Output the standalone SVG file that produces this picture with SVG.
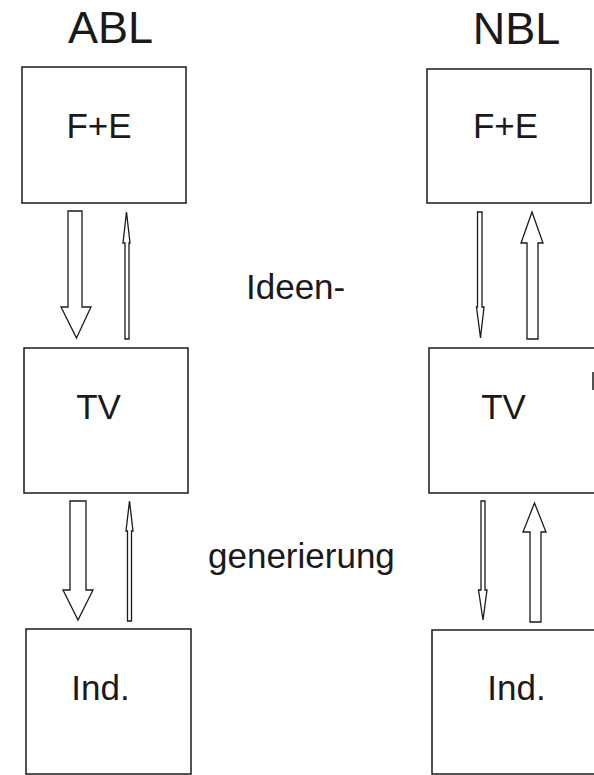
<svg xmlns="http://www.w3.org/2000/svg" width="594" height="775" viewBox="0 0 594 775">
  <style>
    .box { fill: none; stroke: #1a1a1a; stroke-width: 1.5; }
    .arrow { fill: #fff; stroke: #1a1a1a; stroke-width: 1.3; stroke-linejoin: miter; }
    .lbl { font-family: "Liberation Sans", Arial, sans-serif; font-size: 35px; fill: #1a1a1a; }
    .head { font-family: "Liberation Sans", Arial, sans-serif; font-size: 45px; fill: #1a1a1a; }
    .mid { text-anchor: middle; }
  </style>
  <rect width="594" height="775" fill="#fff"/>

  <!-- column headings -->
  <text class="head mid" x="110.5" y="43">ABL</text>
  <text class="head mid" x="516.5" y="44">NBL</text>

  <!-- left column (ABL) -->
  <g id="abl-fe">
    <rect class="box" x="22" y="67" width="164" height="136"/>
    <text class="lbl mid" x="99" y="138">F+E</text>
  </g>
  <g id="abl-tv">
    <rect class="box" x="24" y="348" width="164" height="145"/>
    <text class="lbl mid" x="98.5" y="419">TV</text>
  </g>
  <g id="abl-ind">
    <rect class="box" x="26" y="629" width="165" height="145"/>
    <text class="lbl mid" x="100.5" y="700">Ind.</text>
  </g>

  <!-- right column (NBL) -->
  <g id="nbl-fe">
    <rect class="box" x="427" y="69" width="164" height="134"/>
    <text class="lbl mid" x="505.5" y="138">F+E</text>
  </g>
  <g id="nbl-tv">
    <path class="box" d="M594,348 H429 V493 H594"/>
    <path class="box" d="M593,372 V390"/>
    <text class="lbl mid" x="503.5" y="419">TV</text>
  </g>
  <g id="nbl-ind">
    <path class="box" d="M594,630 H432 V774 H594"/>
    <text class="lbl mid" x="516.5" y="700">Ind.</text>
  </g>

  <!-- middle caption -->
  <g id="caption">
    <text class="lbl" x="246" y="299">Ideen-</text>
    <text class="lbl" x="208" y="568">generierung</text>
  </g>

  <!-- block arrows between the levels -->
  <g id="connectors">
    <!-- ABL: F+E -> TV (wide), TV -> F+E (thin) -->
    <polygon class="arrow" points="68,211 82,211 82,307 91,307 76.5,338 61,307 68,307"/>
    <polygon class="arrow" points="126.5,212 130,243 129,243 129,339 125,339 125,243 123,243"/>
    <!-- ABL: TV -> Ind. (wide), Ind. -> TV (thin) -->
    <polygon class="arrow" points="70,501 86,501 86,590 93,590 78,620 63,590 70,590"/>
    <polygon class="arrow" points="129.5,501 133,531 131.5,531 131.5,621 127.5,621 127.5,531 126,531"/>

    <!-- NBL: F+E -> TV (thin), TV -> F+E (wide) -->
    <polygon class="arrow" points="477.5,212 482,212 482,307 484,307 480.5,338 476.5,307 477.5,307"/>
    <polygon class="arrow" points="532,212 543,243 538,243 538,339 527,339 527,243 521,243"/>
    <!-- NBL: TV -> Ind. (thin), Ind. -> TV (wide) -->
    <polygon class="arrow" points="481,501 485,501 485,590 487,590 483,620 478.5,590 481,590"/>
    <polygon class="arrow" points="534.5,503 546,532 541,532 541,622 530,622 530,532 523,532"/>
  </g>
</svg>
